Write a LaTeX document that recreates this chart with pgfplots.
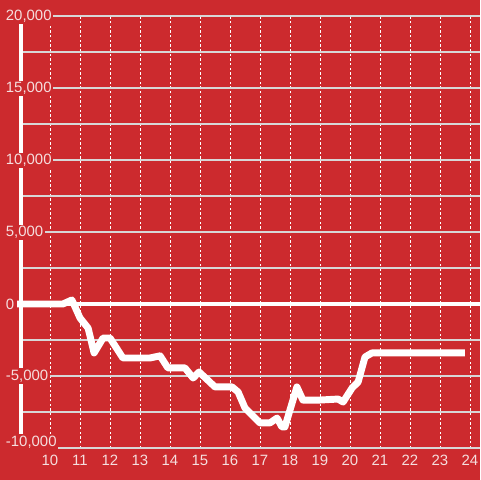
\documentclass[border=0pt]{standalone}
\usepackage{fontspec}
\setmainfont{Liberation Sans}
\usepackage{pgfplots}
\pgfplotsset{compat=1.18}
\definecolor{bgred}{RGB}{204,42,46}
\definecolor{labcol}{RGB}{245,222,222}
\definecolor{gridcol}{RGB}{215,215,215}
\begin{document}
\begin{tikzpicture}
\fill[bgred] (0,0) rectangle (360pt,360pt);
\begin{axis}[
  at={(15.75pt,24pt)}, anchor=south west,
  scale only axis, width=344.25pt, height=324pt,
  xmin=9.0333, xmax=24.3333, ymin=-10000, ymax=20000,
  clip=false,
  scaled y ticks=false,
  axis y line*=left, axis x line*=bottom,
  x axis line style={draw=none},
  y axis line style={draw=white, line width=2.6pt},
  tick style={draw=none}, major tick length=0pt, minor tick length=0pt,
  xtick={10,...,24},
  /pgf/number format/assume math mode=true,
  /pgf/number format/1000 sep={,},
  ytick={-5000,0,...,20000},
  minor ytick={-7500,-2500,2500,7500,12500,17500},
  xmajorgrids, ymajorgrids, yminorgrids,
  major x grid style={white, dash pattern=on 1.8pt off 1.7pt, line width=0.75pt},
  major y grid style={gridcol, line width=0.9pt},
  minor y grid style={gridcol, line width=0.9pt},
  extra y ticks={-10000},
  extra y tick style={yticklabel style={yshift=4.5pt}, grid style={gridcol, line width=0.9pt}},
  ticklabel style={font=\fontsize{11.2}{13}\selectfont, text=labcol},
  yticklabel style={anchor=west, xshift=-12.5pt, fill=bgred, inner sep=1pt},
  xticklabel style={yshift=-2pt},
]
\draw[white, line width=2.4pt] (axis cs:9.0333,0) -- (axis cs:24.3333,0);
\addplot[white, line width=5.2pt, line join=round] coordinates {
(8.90,0) (10.43,0) (10.73,280) (11.0,-970) (11.27,-1670) (11.47,-3400)
(11.77,-2360) (12.0,-2360) (12.43,-3750) (13.33,-3750) (13.67,-3600)
(13.93,-4440) (14.5,-4440) (14.77,-5140) (14.97,-4720) (15.5,-5760)
(16.07,-5760) (16.27,-6110) (16.5,-7220) (17.0,-8260) (17.33,-8260)
(17.57,-7920) (17.73,-8540) (17.83,-8540) (18.23,-5760) (18.43,-6670)
(19.0,-6670) (19.6,-6600) (19.77,-6810) (20.07,-5830) (20.27,-5420)
(20.5,-3680) (20.73,-3400) (20.93,-3400) (23.83,-3400)
};
\end{axis}
\pgfresetboundingbox
\path (0,0) rectangle (360pt,360pt);
\end{tikzpicture}
\end{document}
